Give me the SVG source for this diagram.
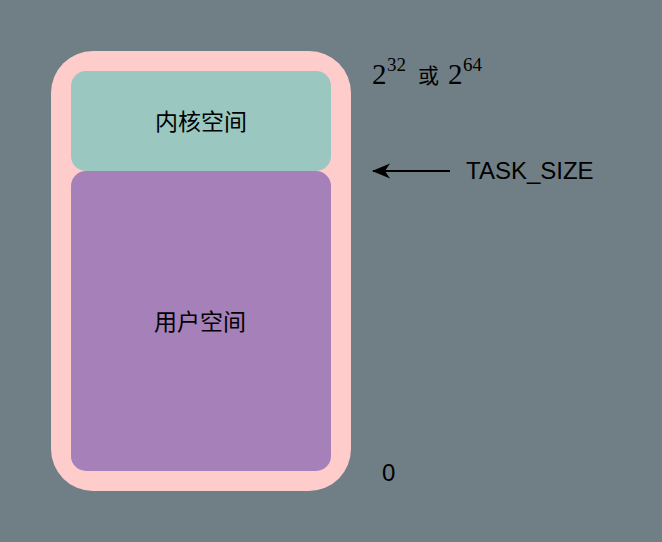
<svg xmlns="http://www.w3.org/2000/svg" width="662" height="542" viewBox="0 0 662 542">
  <defs>
    <style>
      .cjk { font-family: "Noto Sans CJK SC", "Noto Sans", sans-serif; fill: #000; }
      .lbl { font-family: "Liberation Sans", Arial, sans-serif; fill: #000; }
      .math { font-family: "Liberation Serif", "DejaVu Serif", serif; fill: #000; }
    </style>
    <marker id="arrow" viewBox="0 0 18 16" refX="17" refY="8" markerWidth="18" markerHeight="16" markerUnits="userSpaceOnUse" orient="auto">
      <path d="M18,8 L0,0.5 L5,8 L0,15.5 Z" fill="#000"/>
    </marker>
  </defs>
  <rect x="0" y="0" width="662" height="542" fill="#707f86"/>
  <g id="container">
    <rect x="51" y="51" width="300" height="440" rx="42" ry="42" fill="#ffcccc"/>
  </g>
  <g id="kernel-space">
    <rect x="71" y="71" width="260" height="100" rx="15" ry="15" fill="#9ac7bf"/>
    <text class="cjk" x="201" y="130" font-size="23" text-anchor="middle">内核空间</text>
  </g>
  <g id="user-space">
    <rect x="71" y="171" width="260" height="300" rx="15" ry="15" fill="#a680b8"/>
    <text class="cjk" x="200" y="330" font-size="23" text-anchor="middle">用户空间</text>
  </g>
  <g id="top-label">
    <text class="math" x="372" y="84" font-size="29">2</text>
    <text class="math" x="387" y="71" font-size="19">32</text>
    <text class="cjk" x="418" y="83" font-size="21">或</text>
    <text class="math" x="448" y="84" font-size="29">2</text>
    <text class="math" x="463" y="71" font-size="19">64</text>
  </g>
  <g id="task-size-label">
    <text class="lbl" x="466" y="179" font-size="24">TASK_SIZE</text>
  </g>
  <g id="zero-label">
    <text class="lbl" x="382" y="481" font-size="24">0</text>
  </g>
  <g id="connectors">
    <line x1="450" y1="171" x2="373" y2="171" stroke="#000" stroke-width="2" marker-end="url(#arrow)"/>
  </g>
</svg>
